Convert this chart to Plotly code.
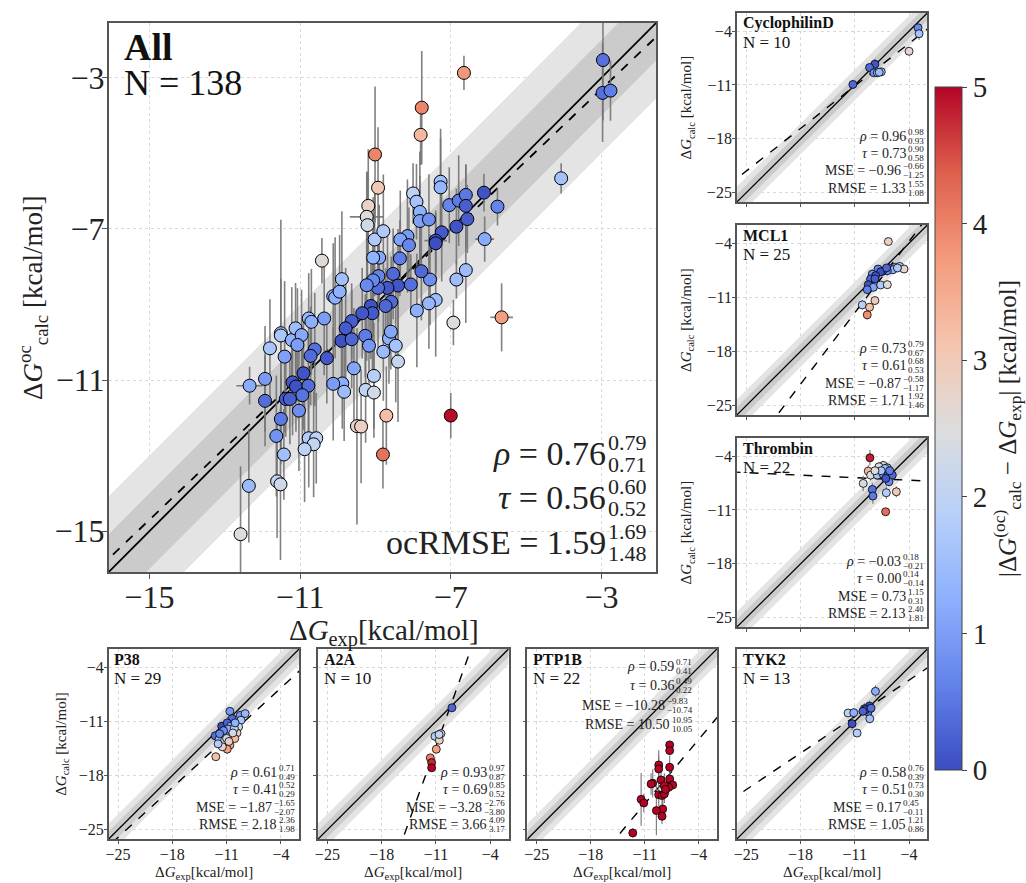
import plotly.graph_objects as go

FIG_W, FIG_H = 1026, 883
SERIF = "Liberation Serif, DejaVu Serif, serif"

MAIN_RANGE = [-16.08, -1.55]
SMALL_RANGE = [-26.2, -1.65]
MAIN_TICKS = [-15, -11, -7, -3]
SMALL_TICKS = [-25, -18, -11, -4]

COOLWARM = [[0.0, "#3b4cc0"], [0.125, "#6282ea"], [0.25, "#8db0fe"], [0.375, "#b8d0f9"],
            [0.5, "#dddddd"], [0.625, "#f5c4ad"], [0.75, "#f49a7b"], [0.875, "#de604d"],
            [1.0, "#b40426"]]

# ---------------- All (offset-corrected) ----------------
all_exp = [-6.65, -7.77, -7.80, -9.01, -8.93, -9.19, -9.23, -9.21, -10.42, -9.02,
           -8.79, -8.00, -7.91, -7.82, -7.82, -7.58, -7.27, -7.27, -7.04, -6.79,
           -6.60, -6.60, -6.56, -6.85, -7.24, -7.40, -7.40, -6.12, -5.76, -6.10,
           -6.60, -6.85, -6.93, -5.65, -7.40, -7.58, -7.90, -7.55, -7.78, -8.06,
           -8.15, -8.34, -8.11, -8.35, -8.53, -8.40, -8.68, -8.93, -8.92, -9.06,
           -9.23, -8.90, -9.06, -8.58, -8.73, -9.12, -9.08, -9.35, -9.63, -9.79,
           -9.90, -9.63, -9.27, -9.17, -8.79, -8.64, -8.59, -8.46, -8.40, -9.04,
           -9.26, -9.04, -9.57, -9.88, -10.12, -9.83, -8.71, -7.00, -9.49, -9.38,
           -10.29, -10.61, -10.72, -10.91, -11.20, -11.11, -10.78, -10.94, -11.38, -11.27,
           -11.03, -11.51, -11.63, -11.93, -11.93, -12.34, -11.80, -11.41, -11.51, -11.51,
           -11.22, -11.12, -10.96, -11.07, -10.77, -10.70, -10.36, -10.12, -10.07, -9.95,
           -9.89, -10.77, -10.57, -10.64, -10.88, -11.43, -12.36, -11.61, -11.52, -12.58,
           -8.80, -2.96, -2.97, -2.76, -4.07]
all_calc = [-2.87, -3.79, -4.51, -5.03, -5.91, -6.39, -6.68, -6.90, -7.84, -7.28,
            -7.06, -6.06, -6.28, -6.55, -6.79, -6.75, -5.75, -5.90, -6.37, -6.25,
            -6.10, -6.39, -6.74, -6.94, -7.09, -7.31, -7.38, -6.04, -6.41, -7.27,
            -8.09, -8.34, -9.48, -9.34, -8.88, -8.97, -9.16, -8.34, -8.12, -8.47,
            -7.19, -7.28, -7.43, -7.78, -8.19, -8.50, -8.56, -8.56, -8.25, -8.36,
            -8.49, -7.76, -7.76, -8.93, -9.04, -9.04, -9.23, -9.23, -9.44, -9.63,
            -9.96, -9.92, -9.83, -10.09, -10.25, -9.90, -9.72, -10.09, -10.51, -10.89,
            -11.26, -11.33, -10.69, -11.09, -11.10, -11.31, -11.94, -11.94, -12.22, -12.23,
            -10.42, -10.19, -10.36, -10.82, -11.06, -11.17, -11.15, -11.40, -11.50, -11.50,
            -11.81, -12.03, -12.48, -11.55, -10.97, -11.15, -10.16, -10.38, -9.76, -9.82,
            -9.94, -9.63, -9.81, -10.07, -9.37, -9.46, -9.37, -8.78, -8.82, -8.66,
            -8.33, -12.54, -12.54, -12.70, -12.83, -12.97, -13.80, -13.68, -13.76, -15.08,
            -12.97, -2.53, -3.40, -3.34, -5.66]
all_yerr = [0.45, 1.5, 0.8, 1.8, 1.6, 1.5, 1.2, 1.4, 0.6, 1.5,
            1.5, 0.8, 1.0, 1.6, 1.2, 1.2, 1.4, 1.3, 1.0, 1.2,
            0.8, 1.1, 0.9, 1.0, 1.3, 0.8, 0.8, 0.5, 0.5, 0.6,
            1.4, 0.5, 0.6, 0.9, 1.5, 1.2, 1.5, 1.2, 1.3, 0.8,
            1.5, 1.3, 1.0, 1.0, 1.2, 1.5, 1.4, 1.6, 1.2, 1.5,
            2.0, 1.4, 1.6, 1.2, 1.0, 1.4, 1.5, 1.2, 1.0, 1.6,
            1.2, 1.3, 1.1, 1.0, 1.3, 1.2, 1.0, 1.5, 1.6, 1.4,
            1.4, 1.2, 1.6, 1.2, 1.5, 1.3, 1.3, 0.6, 2.6, 1.5,
            1.2, 1.5, 1.3, 1.5, 1.4, 1.2, 1.3, 1.4, 1.0, 1.2,
            1.6, 1.2, 1.6, 1.2, 1.4, 0.5, 1.3, 2.0, 3.0, 1.5,
            1.4, 1.2, 1.2, 1.5, 1.2, 1.4, 1.5, 1.4, 1.6, 1.5,
            1.8, 1.3, 1.2, 1.4, 1.4, 1.2, 1.5, 1.5, 2.0, 1.8,
            0.9, 1.6, 1.3, 0.8, 0.4]
all_xerr = [0.0] * 6 + [0.45] + [0.0] * 18 + [0.3] + [0.0] * 3 + [0.25] + [0.0] * 3 + [0.3] \
           + [0.0] * 61 + [0.35] + [0.0] * 28
all_fit = [0.95, -0.45]
all_stats = [("<i>ρ</i>", "0.76", "0.79", "0.71"),
             ("<i>τ</i>", "0.56", "0.60", "0.52"),
             ("ocRMSE", "1.59", "1.69", "1.48")]

# ---------------- CyclophilinD ----------------
cyc_exp = [-2.84, -2.71, -4.00, -8.40, -9.09, -8.53, -8.09, -7.58, -7.85, -11.24]
cyc_calc = [-3.57, -4.34, -6.62, -8.30, -8.73, -9.42, -9.42, -9.29, -9.35, -10.93]
cyc_yerr = [0.6, 0.8, 0.3, 0.7, 0.4, 0.4, 0.4, 0.4, 0.3, 0.5]
cyc_fit = [0.79, -2.44]
cyc_stats = [("<i>ρ</i>", "0.96", "0.98", "0.93"), ("<i>τ</i>", "0.73", "0.90", "0.58"),
             ("MSE", "−0.96", "−0.66", "−1.25"), ("RMSE", "1.33", "1.55", "1.08")]

# ---------------- MCL1 ----------------
mcl_exp = [-6.67, -6.50, -5.85, -5.21, -4.65, -6.07, -6.80, -7.45, -8.00, -7.66,
           -8.74, -8.31, -8.96, -8.40, -9.26, -8.61, -9.39, -7.66, -6.80, -10.03,
           -9.09, -8.40, -9.39, -6.90, -5.50]
mcl_calc = [-3.79, -7.21, -7.13, -7.00, -7.34, -7.43, -7.56, -7.64, -7.34, -7.69,
            -7.99, -8.20, -8.63, -8.60, -9.36, -9.70, -10.00, -9.40, -9.36, -11.97,
            -12.27, -11.41, -13.26, -7.20, -7.20]
mcl_yerr = [0.4, 0.5, 0.4, 0.5, 0.4, 0.5, 0.6, 0.5, 0.5, 0.4,
            0.6, 0.5, 0.6, 0.5, 0.7, 0.5, 0.6, 0.5, 0.5, 0.6,
            0.5, 0.5, 0.6, 0.4, 0.4]
mcl_fit = [1.32, 1.52]
mcl_stats = [("<i>ρ</i>", "0.73", "0.79", "0.67"), ("<i>τ</i>", "0.61", "0.68", "0.53"),
             ("MSE", "−0.87", "−0.58", "−1.17"), ("RMSE", "1.71", "1.92", "1.46")]

# ---------------- Thrombin ----------------
thr_exp = [-9.04, -7.32, -6.80, -7.88, -9.26, -8.96, -8.09, -7.32, -6.72, -6.16,
           -6.59, -9.91, -8.74, -8.66, -6.93, -5.64, -7.02, -7.10, -6.50, -7.60,
           -8.40, -7.00]
thr_calc = [-4.22, -5.21, -5.52, -5.39, -5.95, -6.47, -6.47, -6.38, -6.47, -6.47,
            -7.33, -7.55, -8.33, -9.19, -8.76, -8.63, -11.23, -5.60, -5.90, -5.90,
            -5.90, -6.90]
thr_yerr = [1.0, 0.6, 0.5, 0.6, 0.8, 0.7, 0.6, 0.6, 0.5, 0.6,
            0.6, 1.0, 0.9, 1.0, 0.8, 0.7, 0.5, 0.6, 0.5, 0.6,
            0.6, 0.5]
thr_fit = [-0.047, -7.32]
thr_stats = [("<i>ρ</i>", "−0.03", "0.18", "−0.21"), ("<i>τ</i>", "0.00", "0.14", "−0.14"),
             ("MSE", "0.73", "1.15", "0.31"), ("RMSE", "2.13", "2.40", "1.81")]

# ---------------- P38 ----------------
p38_exp = [-10.58, -10.29, -9.24, -8.61, -9.15, -11.63, -10.92, -10.50, -9.45, -9.66,
           -12.47, -11.76, -11.13, -11.97, -11.25, -9.95, -10.58, -10.92, -11.55, -12.39,
           -10.80, -11.40, -10.00, -11.90, -10.20, -11.00, -12.10, -9.90, -10.70]
p38_calc = [-9.70, -10.64, -10.22, -10.00, -10.86, -11.63, -11.20, -11.63, -11.72, -12.49,
            -12.87, -12.57, -12.79, -13.30, -13.43, -13.22, -14.07, -14.59, -14.29, -15.57,
            -12.00, -12.20, -11.90, -12.60, -12.50, -13.20, -13.90, -11.20, -13.60]
p38_yerr = [0.5, 0.6, 0.5, 0.5, 0.5, 0.6, 0.8, 0.5, 0.5, 0.6,
            0.6, 0.5, 0.6, 0.5, 0.6, 0.5, 0.6, 0.6, 0.5, 0.5,
            0.5, 0.5, 0.5, 0.5, 0.5, 0.5, 0.5, 0.5, 0.5]
p38_fit = [0.92, -3.0]
p38_stats = [("<i>ρ</i>", "0.61", "0.71", "0.49"), ("<i>τ</i>", "0.41", "0.52", "0.29"),
             ("MSE", "−1.87", "−1.65", "−2.07"), ("RMSE", "2.18", "2.36", "1.98")]

# ---------------- A2A ----------------
a2a_exp = [-8.94, -10.36, -10.79, -11.13, -10.57, -10.96, -11.73, -11.56, -11.56, -10.60]
a2a_calc = [-9.24, -12.58, -12.80, -12.93, -13.44, -14.60, -15.72, -16.32, -17.00, -12.70]
a2a_yerr = [0.4, 0.6, 0.7, 0.6, 0.5, 0.4, 0.5, 0.5, 0.4, 0.6]
a2a_fit = [2.79, 16.46]
a2a_stats = [("<i>ρ</i>", "0.93", "0.97", "0.87"), ("<i>τ</i>", "0.69", "0.85", "0.52"),
             ("MSE", "−3.28", "−2.76", "−3.80"), ("RMSE", "3.66", "4.09", "3.17")]

# ---------------- PTP1B ----------------
ptp_exp = [-7.77, -7.77, -7.77, -9.19, -9.19, -7.77, -8.89, -9.97, -10.18, -7.38,
           -7.90, -8.46, -9.19, -8.76, -8.46, -11.47, -11.13, -8.67, -9.49, -8.76,
           -12.55, -8.30]
ptp_calc = [-14.04, -14.78, -16.93, -16.63, -17.15, -18.44, -18.57, -19.00, -19.09, -19.22,
            -19.52, -19.30, -20.47, -20.59, -20.38, -21.08, -21.54, -22.32, -22.53, -23.27,
            -25.42, -19.80]
ptp_yerr = [0.5, 0.6, 1.5, 1.9, 1.6, 1.0, 1.2, 1.8, 1.4, 0.6,
            0.8, 1.6, 1.5, 1.4, 1.2, 3.4, 1.2, 1.4, 3.2, 1.0,
            0.6, 1.0]
ptp_fit = [1.19, -8.56]
ptp_stats = [("<i>ρ</i>", "0.59", "0.71", "0.41"), ("<i>τ</i>", "0.36", "0.49", "0.22"),
             ("MSE", "−10.28", "−9.83", "−10.74"), ("RMSE", "10.50", "10.95", "10.05")]

# ---------------- TYK2 ----------------
tyk_exp = [-8.33, -9.10, -9.75, -9.41, -11.86, -11.13, -9.28, -9.06, -11.34, -10.70,
           -9.62, -9.95, -8.90]
tyk_calc = [-7.12, -9.02, -9.36, -9.58, -9.92, -9.88, -9.79, -10.66, -11.30, -12.51,
            -9.49, -9.70, -9.30]
tyk_yerr = [0.8, 0.6, 0.7, 0.5, 0.4, 0.5, 0.6, 0.6, 0.8, 0.4, 0.6, 0.5, 0.5]
tyk_fit = [0.674, -2.98]
tyk_stats = [("<i>ρ</i>", "0.58", "0.76", "0.39"), ("<i>τ</i>", "0.51", "0.73", "0.30"),
             ("MSE", "0.17", "0.45", "−0.11"), ("RMSE", "1.05", "1.21", "0.86")]

# ---------------- layout geometry (pixels: left, top, right, bottom) ----------------
BOX = {1: (106, 23, 655, 572),
       2: (736, 13, 927, 202), 3: (736, 225, 927, 415), 4: (736, 438, 927, 627),
       5: (106, 649, 297, 839), 6: (316, 649, 507, 839), 7: (526, 649, 716, 839),
       8: (736, 649, 927, 839)}

panels = [
    # n, name, N, exp, calc, yerr, fit, stats, show_x_labels, show_y_labels
    (2, "CyclophilinD", 10, cyc_exp, cyc_calc, cyc_yerr, cyc_fit, cyc_stats, False, True),
    (3, "MCL1", 25, mcl_exp, mcl_calc, mcl_yerr, mcl_fit, mcl_stats, False, True),
    (4, "Thrombin", 22, thr_exp, thr_calc, thr_yerr, thr_fit, thr_stats, False, True),
    (5, "P38", 29, p38_exp, p38_calc, p38_yerr, p38_fit, p38_stats, True, True),
    (6, "A2A", 10, a2a_exp, a2a_calc, a2a_yerr, a2a_fit, a2a_stats, True, False),
    (7, "PTP1B", 22, ptp_exp, ptp_calc, ptp_yerr, ptp_fit, ptp_stats, True, False),
    (8, "TYK2", 13, tyk_exp, tyk_calc, tyk_yerr, tyk_fit, tyk_stats, True, False),
]

fig = go.Figure()
annotations = []


def ax_suffix(n):
    return "" if n == 1 else str(n)


def add_background(n, rng, lw):
    s = ax_suffix(n)
    lo, hi = rng
    for half, col in ((2.0, "#e4e4e4"), (1.0, "#cbcbcb")):
        fig.add_trace(go.Scatter(
            x=[lo - 3, hi + 3, hi + 3, lo - 3, lo - 3],
            y=[lo - 3 + half, hi + 3 + half, hi + 3 - half, lo - 3 - half, lo - 3 + half],
            mode="lines", fill="toself", fillcolor=col, line=dict(width=0),
            hoverinfo="skip", showlegend=False, xaxis="x" + s, yaxis="y" + s))
    fig.add_trace(go.Scatter(x=[lo - 3, hi + 3], y=[lo - 3, hi + 3], mode="lines",
                             line=dict(color="black", width=lw), hoverinfo="skip",
                             showlegend=False, xaxis="x" + s, yaxis="y" + s))


def add_fit(n, rng, fit, lw):
    s = ax_suffix(n)
    lo, hi = rng
    xs = [lo - 3, hi + 3]
    fig.add_trace(go.Scatter(x=xs, y=[fit[0] * v + fit[1] for v in xs], mode="lines",
                             line=dict(color="black", width=lw, dash="dash"),
                             hoverinfo="skip", showlegend=False, xaxis="x" + s, yaxis="y" + s))


def text_width(s, fs):
    w = 0.0
    for ch in s:
        if ch.isdigit():
            w += 0.5
        elif ch == ".":
            w += 0.25
        elif ch == "−":
            w += 0.564
        else:
            w += 0.5
    return w * fs


def add_stats(n, rows, right_px, tops, fs, fss, dy):
    x0, y0, x1, y1 = BOX[n]
    pw, ph = x1 - x0, y1 - y0
    s = ax_suffix(n)
    for (lab, val, sup, sub), t in zip(rows, tops):
        w = max(text_width(sup, fss), text_width(sub, fss))
        xs = (right_px - w - x0) / pw
        yd = 1 - t / ph
        common = dict(xref="x" + s + " domain", yref="y" + s + " domain", showarrow=False,
                      yanchor="middle", borderpad=0)
        annotations.append(dict(common, x=xs, y=yd, xanchor="right",
                                text=f"{lab} = {val}", font=dict(family=SERIF, size=fs, color="#222")))
        annotations.append(dict(common, x=xs, y=yd, xanchor="left", yshift=dy,
                                text=sup, font=dict(family=SERIF, size=fss, color="#222")))
        annotations.append(dict(common, x=xs, y=yd, xanchor="left", yshift=-dy,
                                text=sub, font=dict(family=SERIF, size=fss, color="#222")))


# ---------------- main panel ----------------
add_background(1, MAIN_RANGE, 1.8)
add_fit(1, MAIN_RANGE, all_fit, 1.8)
fig.add_trace(go.Scatter(
    x=all_exp, y=all_calc, mode="markers", showlegend=False, xaxis="x", yaxis="y",
    error_y=dict(type="data", array=all_yerr, color="rgba(115,115,115,0.9)", thickness=1.6, width=0),
    error_x=dict(type="data", array=all_xerr, color="rgba(115,115,115,0.9)", thickness=1.6, width=0),
    marker=dict(size=13, color=[abs(c - e) for c, e in zip(all_calc, all_exp)],
                colorscale=COOLWARM, cmin=0, cmax=5, line=dict(color="black", width=1),
                showscale=True,
                colorbar=dict(x=935 / FIG_W, xanchor="left", xpad=0, ypad=0,
                              y=1 - (87 + 770) / 2 / FIG_H, yanchor="middle",
                              len=(770 - 87) / FIG_H, lenmode="fraction",
                              thickness=27, thicknessmode="pixels",
                              outlinewidth=1, outlinecolor="#444",
                              tickvals=[0, 1, 2, 3, 4, 5], ticktext=["0", "1", "2", "3", "4", "5"],
                              ticks="outside", ticklen=5, tickcolor="#444",
                              tickfont=dict(family=SERIF, size=29, color="#222"),
                              title=dict(text="|Δ<i>G</i><sup>(oc)</sup><sub>calc</sub> − Δ<i>G</i><sub>exp</sub>| [kcal/mol]",
                                         side="right",
                                         font=dict(family=SERIF, size=25, color="#222"))))))

add_stats(1, all_stats, 644, [430, 474, 519], 34, 22, 11)
annotations.append(dict(xref="x domain", yref="y domain", x=0.024, y=1 - 24 / 549, xanchor="left",
                        yanchor="middle", showarrow=False, text="<b>All</b>",
                        font=dict(family=SERIF, size=38, color="#111")))
annotations.append(dict(xref="x domain", yref="y domain", x=0.024, y=1 - 60 / 549, xanchor="left",
                        yanchor="middle", showarrow=False, text="N = 138",
                        font=dict(family=SERIF, size=36, color="#111")))

# ---------------- small panels ----------------
for (n, name, cnt, ex, ca, ye, fit, stats, showx, showy) in panels:
    s = ax_suffix(n)
    add_background(n, SMALL_RANGE, 1.3)
    add_fit(n, SMALL_RANGE, fit, 1.4)
    fig.add_trace(go.Scatter(
        x=ex, y=ca, mode="markers", showlegend=False, xaxis="x" + s, yaxis="y" + s,
        error_y=dict(type="data", array=ye, color="rgba(115,115,115,0.9)", thickness=1.2, width=0),
        marker=dict(size=8, color=[abs(c - e) for c, e in zip(ca, ex)],
                    colorscale=COOLWARM, cmin=0, cmax=5, line=dict(color="black", width=0.8),
                    showscale=False)))
    x0, y0, x1, y1 = BOX[n]
    ph = y1 - y0
    annotations.append(dict(xref="x" + s + " domain", yref="y" + s + " domain", x=0.02,
                            y=1 - 10 / ph, xanchor="left", yanchor="middle", showarrow=False,
                            text=f"<b>{name}</b>", font=dict(family=SERIF, size=16, color="#111")))
    annotations.append(dict(xref="x" + s + " domain", yref="y" + s + " domain", x=0.02,
                            y=1 - 29 / ph, xanchor="left", yanchor="middle", showarrow=False,
                            text=f"N = {cnt}", font=dict(family=SERIF, size=17, color="#111")))
    if n == 7:
        add_stats(n, stats, 690, [17, 36, 56, 75], 14, 9, 4.5)
    else:
        add_stats(n, stats, x1 - 5, [123, 140.5, 158, 175.5], 14, 9, 4.5)

# ---------------- axes ----------------
layout_axes = {}
for n, (l, t, r, b) in BOX.items():
    s = ax_suffix(n)
    main = n == 1
    rng = MAIN_RANGE if main else SMALL_RANGE
    ticks = MAIN_TICKS if main else SMALL_TICKS
    fs = 32 if main else 16
    showx = True
    showy = True
    for p in panels:
        if p[0] == n:
            showx, showy = p[8], p[9]
    common = dict(range=rng, tickvals=ticks, ticktext=["−" + str(-v) for v in ticks],
                  showgrid=True, gridcolor="#d9d9d9", griddash="dot", gridwidth=1,
                  zeroline=False, showline=True, mirror=True, linecolor="#555",
                  linewidth=1.5, ticks="outside", ticklen=5 if main else 3, tickcolor="#555",
                  tickfont=dict(family=SERIF, size=fs, color="#222"), fixedrange=True,
                  ticklabelstandoff=-9 if main else -3)
    layout_axes["xaxis" + s] = dict(common, domain=[l / FIG_W, r / FIG_W], anchor="y" + s,
                                    showticklabels=showx)
    layout_axes["yaxis" + s] = dict(common, domain=[1 - b / FIG_H, 1 - t / FIG_H], anchor="x" + s,
                                    showticklabels=showy)

# ---------------- axis titles ----------------
def paper_text(x, y, text, size, angle=0):
    annotations.append(dict(xref="paper", yref="paper", x=x / FIG_W, y=1 - y / FIG_H,
                            xanchor="center", yanchor="middle", showarrow=False, text=text,
                            textangle=angle, font=dict(family=SERIF, size=size, color="#222")))


paper_text(30, 298, "Δ<i>G</i><sup>oc</sup><sub>calc</sub> [kcal/mol]", 27, -90)
paper_text(382, 632, "Δ<i>G</i><sub>exp</sub>[kcal/mol]", 29)
for n in (2, 3, 4):
    l, t, r, b = BOX[n]
    paper_text(686, (t + b) / 2, "Δ<i>G</i><sub>calc</sub> [kcal/mol]", 15, -90)
l, t, r, b = BOX[5]
paper_text(59, (t + b) / 2, "Δ<i>G</i><sub>calc</sub> [kcal/mol]", 15, -90)
for n in (5, 6, 7, 8):
    l, t, r, b = BOX[n]
    paper_text((l + r) / 2, 873, "Δ<i>G</i><sub>exp</sub>[kcal/mol]", 15)

fig.update_layout(width=FIG_W, height=FIG_H, margin=dict(l=0, r=0, t=0, b=0),
                  paper_bgcolor="white", plot_bgcolor="white", showlegend=False,
                  font=dict(family=SERIF, color="#222"), annotations=annotations,
                  **layout_axes)

fig.write_html("out.html", config={"displayModeBar": False},
               post_script="document.body.style.margin='0';document.body.style.overflow='hidden';")
